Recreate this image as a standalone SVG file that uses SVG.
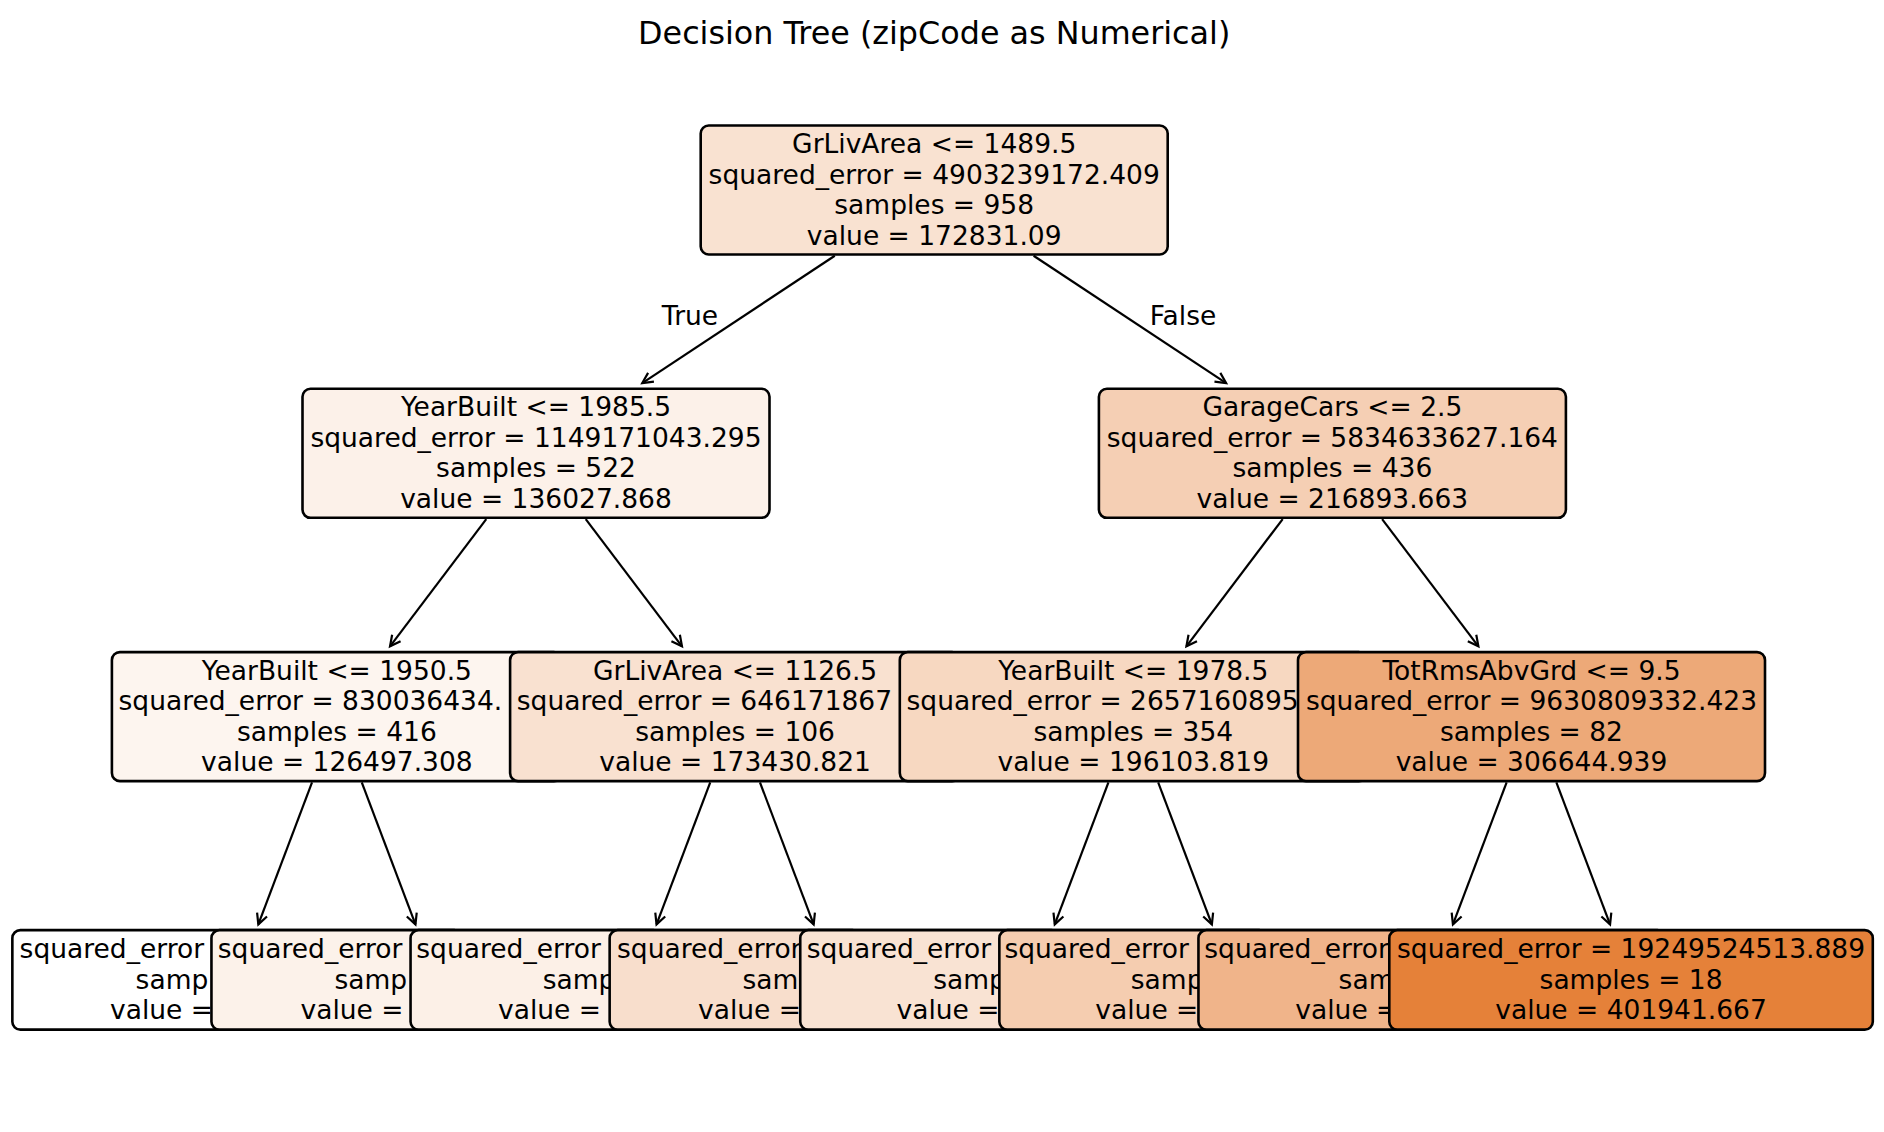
<svg xmlns="http://www.w3.org/2000/svg" width="1884" height="1132" viewBox="0 0 1884 1132">
<style>
text{font-family:"DejaVu Sans","Liberation Sans",sans-serif;font-size:26.5px;fill:#000}
.c{text-anchor:middle}
.s{text-anchor:start}
.box{stroke:#000;stroke-width:2.6}
.edge{stroke:#000;stroke-width:2.2;fill:none;marker-end:url(#ah)}
.title{font-size:31.8px;text-anchor:middle}
</style>
<defs>
<marker id="ah" markerUnits="userSpaceOnUse" viewBox="-12 -7 14 14" markerWidth="14" markerHeight="14" refX="0" refY="0" orient="auto" overflow="visible">
<path d="M-10.5,-5.3 L0,0 L-10.5,5.3" fill="none" stroke="#000" stroke-width="2.2" stroke-linejoin="miter"/>
</marker>
</defs>
<rect width="1884" height="1132" fill="#fff"/>
<text class="title" x="934.2" y="44">Decision Tree (zipCode as Numerical)</text>
<g id="connectors">
<line class="edge" x1="834.8" y1="255.75" x2="642.25" y2="383.05"/>
<line class="edge" x1="1033.6" y1="255.75" x2="1226.15" y2="383.05"/>
<line class="edge" x1="486.28" y1="519.05" x2="390.02" y2="646.35"/>
<line class="edge" x1="585.72" y1="519.05" x2="681.98" y2="646.35"/>
<line class="edge" x1="1282.68" y1="519.05" x2="1186.42" y2="646.35"/>
<line class="edge" x1="1382.12" y1="519.05" x2="1478.38" y2="646.35"/>
<line class="edge" x1="312.04" y1="782.35" x2="258.33" y2="924.4"/>
<line class="edge" x1="361.76" y1="782.35" x2="415.47" y2="924.4"/>
<line class="edge" x1="710.24" y1="782.35" x2="656.53" y2="924.4"/>
<line class="edge" x1="759.96" y1="782.35" x2="813.67" y2="924.4"/>
<line class="edge" x1="1108.44" y1="782.35" x2="1054.73" y2="924.4"/>
<line class="edge" x1="1158.16" y1="782.35" x2="1211.87" y2="924.4"/>
<line class="edge" x1="1506.64" y1="782.35" x2="1452.93" y2="924.4"/>
<line class="edge" x1="1556.36" y1="782.35" x2="1610.07" y2="924.4"/>
<text class="c" x="690" y="324.5">True</text>
<text class="c" x="1183" y="324.5">False</text>
</g>
<g id="root">
<rect class="box" x="700.7" y="125.5" width="467" height="129" rx="8" fill="#f9e2d1"/>
<text class="c" x="934.2" y="153">GrLivArea &lt;= 1489.5</text>
<text class="c" x="934.2" y="183.5">squared_error = 4903239172.409</text>
<text class="c" x="934.2" y="214">samples = 958</text>
<text class="c" x="934.2" y="244.5">value = 172831.09</text>
</g>
<g id="n_L">
<rect class="box" x="302.5" y="388.8" width="467" height="129" rx="8" fill="#fcf1e9"/>
<text class="c" x="536" y="416.3">YearBuilt &lt;= 1985.5</text>
<text class="c" x="536" y="446.8">squared_error = 1149171043.295</text>
<text class="c" x="536" y="477.3">samples = 522</text>
<text class="c" x="536" y="507.8">value = 136027.868</text>
</g>
<g id="n_LL">
<rect class="box" x="111.9" y="652.1" width="450" height="129" rx="8" fill="#fdf5ef"/>
<text class="c" x="336.9" y="679.6">YearBuilt &lt;= 1950.5</text>
<text class="s" x="118.5" y="710.1">squared_error = 830036434.</text>
<text class="c" x="336.9" y="740.6">samples = 416</text>
<text class="c" x="336.9" y="771.1">value = 126497.308</text>
</g>
<g id="leaf1">
<rect class="box" x="12.35" y="930.15" width="450" height="99.5" rx="8" fill="#ffffff"/>
<text class="s" x="19.6" y="958">squared_error</text>
<text class="s" x="135.6" y="988.5">samp</text>
<text class="s" x="110" y="1019">value =</text>
</g>
<g id="leaf2">
<rect class="box" x="211.45" y="930.15" width="450" height="99.5" rx="8" fill="#fcf2ea"/>
<text class="s" x="217.8" y="958">squared_error</text>
<text class="s" x="334.4" y="988.5">samp</text>
<text class="s" x="300.5" y="1019">value =</text>
</g>
<g id="n_LR">
<rect class="box" x="510.1" y="652.1" width="450" height="129" rx="8" fill="#f9e1d0"/>
<text class="c" x="735.1" y="679.6">GrLivArea &lt;= 1126.5</text>
<text class="s" x="516.8" y="710.1">squared_error = 646171867</text>
<text class="c" x="735.1" y="740.6">samples = 106</text>
<text class="c" x="735.1" y="771.1">value = 173430.821</text>
</g>
<g id="leaf3">
<rect class="box" x="410.55" y="930.15" width="450" height="99.5" rx="8" fill="#fcf0e7"/>
<text class="s" x="416.3" y="958">squared_error</text>
<text class="s" x="542.7" y="988.5">samp</text>
<text class="s" x="498" y="1019">value =</text>
</g>
<g id="leaf4">
<rect class="box" x="609.65" y="930.15" width="450" height="99.5" rx="8" fill="#f8decc"/>
<text class="s" x="617" y="958">squared_error</text>
<text class="s" x="742.4" y="988.5">sam</text>
<text class="s" x="698" y="1019">value =</text>
</g>
<g id="n_R">
<rect class="box" x="1098.9" y="388.8" width="467" height="129" rx="8" fill="#f5cfb4"/>
<text class="c" x="1332.4" y="416.3">GarageCars &lt;= 2.5</text>
<text class="c" x="1332.4" y="446.8">squared_error = 5834633627.164</text>
<text class="c" x="1332.4" y="477.3">samples = 436</text>
<text class="c" x="1332.4" y="507.8">value = 216893.663</text>
</g>
<g id="n_RL">
<rect class="box" x="899.8" y="652.1" width="467" height="129" rx="8" fill="#f7d8c1"/>
<text class="c" x="1133.3" y="679.6">YearBuilt &lt;= 1978.5</text>
<text class="s" x="906.5" y="710.1">squared_error = 2657160895</text>
<text class="c" x="1133.3" y="740.6">samples = 354</text>
<text class="c" x="1133.3" y="771.1">value = 196103.819</text>
</g>
<g id="leaf5">
<rect class="box" x="800.25" y="930.15" width="467" height="99.5" rx="8" fill="#f9e3d3"/>
<text class="s" x="806.7" y="958">squared_error</text>
<text class="s" x="933.2" y="988.5">samp</text>
<text class="s" x="896.5" y="1019">value =</text>
</g>
<g id="leaf6">
<rect class="box" x="999.35" y="930.15" width="467" height="99.5" rx="8" fill="#f5cdb0"/>
<text class="s" x="1004.4" y="958">squared_error</text>
<text class="s" x="1130.8" y="988.5">samp</text>
<text class="s" x="1095.3" y="1019">value =</text>
</g>
<g id="n_RR">
<rect class="box" x="1298" y="652.1" width="467" height="129" rx="8" fill="#eda978"/>
<text class="c" x="1531.5" y="679.6">TotRmsAbvGrd &lt;= 9.5</text>
<text class="c" x="1531.5" y="710.1">squared_error = 9630809332.423</text>
<text class="c" x="1531.5" y="740.6">samples = 82</text>
<text class="c" x="1531.5" y="771.1">value = 306644.939</text>
</g>
<g id="leaf7">
<rect class="box" x="1198.45" y="930.15" width="467" height="99.5" rx="8" fill="#f0b48a"/>
<text class="s" x="1204.3" y="958">squared_error</text>
<text class="s" x="1338.6" y="988.5">sam</text>
<text class="s" x="1295.3" y="1019">value =</text>
</g>
<g id="leaf8">
<rect class="box" x="1389.3" y="930.15" width="483.5" height="99.5" rx="8" fill="#e58139"/>
<text class="c" x="1631.05" y="958">squared_error = 19249524513.889</text>
<text class="c" x="1631.05" y="988.5">samples = 18</text>
<text class="c" x="1631.05" y="1019">value = 401941.667</text>
</g>
</svg>
